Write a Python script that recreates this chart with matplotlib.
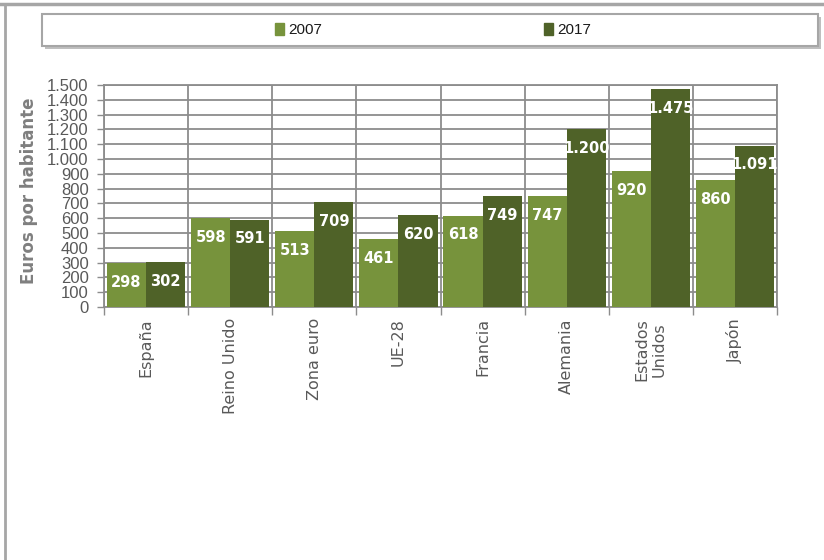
import matplotlib.pyplot as plt
from matplotlib.patches import Rectangle, Patch
from matplotlib.lines import Line2D
import numpy as np

paises = ["España", "Reino Unido", "Zona euro", "UE-28", "Francia",
          "Alemania", "Estados\nUnidos", "Japón"]
valores_2007 = [298, 598, 513, 461, 618, 747, 920, 860]
valores_2017 = [302, 591, 709, 620, 749, 1200, 1475, 1091]

color_2007 = "#77933C"
color_2017 = "#4F6228"
gris_rejilla = "#8c8c8c"
gris_texto = "#595959"


def fmt_miles(v):
    return f"{v:,}".replace(",", ".")


fig = plt.figure(figsize=(8.24, 5.6), dpi=100)
ax = fig.add_axes([104 / 824, 1 - 307 / 560, 673 / 824, 222 / 560])

x = np.arange(len(paises))
ancho = 0.465
b1 = ax.bar(x - ancho / 2, valores_2007, ancho, color=color_2007, zorder=3)
b2 = ax.bar(x + ancho / 2, valores_2017, ancho, color=color_2017, zorder=3)

# etiquetas de valor dentro de cada barra, cerca del extremo superior
for barras, vals in ((b1, valores_2007), (b2, valores_2017)):
    for rect, v in zip(barras, vals):
        ax.annotate(fmt_miles(v), (rect.get_x() + rect.get_width() / 2, v),
                    xytext=(0, -14), textcoords="offset points",
                    ha="center", va="center", color="white",
                    fontsize=10.5, fontweight="bold", family="DejaVu Sans",
                    zorder=4)

ax.set_xlim(-0.5, len(paises) - 0.5)
ax.set_ylim(0, 1500)

ax.set_yticks(np.arange(0, 1501, 100))
ax.set_yticklabels([fmt_miles(v) for v in range(0, 1501, 100)],
                   fontsize=12, color=gris_texto, family="Liberation Sans")
ax.tick_params(axis="y", length=5, width=1, color=gris_rejilla, pad=6)

ax.set_xticks(x)
ax.set_xticklabels(paises, rotation=90, fontsize=11.5, color=gris_texto,
                   family="DejaVu Sans", va="top", ha="center")
ax.set_xticks(np.arange(-0.5, len(paises)), minor=True)
ax.tick_params(axis="x", which="major", length=0, pad=8)
ax.tick_params(axis="x", which="minor", length=6, width=1, color=gris_rejilla)

ax.grid(axis="y", which="major", color=gris_rejilla, linewidth=1.3, zorder=0)
ax.grid(axis="x", which="minor", color=gris_rejilla, linewidth=1.3, zorder=0)
for s in ax.spines.values():
    s.set_color(gris_rejilla)
    s.set_linewidth(1.3)

ax.set_ylabel("Euros por habitante", fontsize=12, fontweight="bold",
              color="#7f7f7f", family="DejaVu Sans")
ax.yaxis.set_label_coords(-66 / 673, 0.525)

# marco exterior (borde superior e izquierdo)
fig.add_artist(Line2D([0, 1], [1 - 4 / 560] * 2, color="#a6a6a6", lw=2.5,
                      transform=fig.transFigure))
fig.add_artist(Line2D([5 / 824] * 2, [0, 1 - 4 / 560], color="#a6a6a6", lw=2,
                      transform=fig.transFigure))

# caja de la leyenda con sombra
fig.add_artist(Rectangle((45 / 824, 1 - 49 / 560), 776 / 824, 32 / 560,
                         transform=fig.transFigure, facecolor="#bfbfbf",
                         edgecolor="none", zorder=1))
fig.add_artist(Rectangle((42 / 824, 1 - 46 / 560), 776 / 824, 32 / 560,
                         transform=fig.transFigure, facecolor="white",
                         edgecolor="#a6a6a6", lw=1.5, zorder=2))

handles = [Patch(color=color_2007), Patch(color=color_2017)]
leg = fig.legend(handles, ["2007", "2017"], loc="center",
                 bbox_to_anchor=(433 / 824, 1 - 30 / 560), ncol=2,
                 frameon=False, handlelength=0.6, handleheight=0.9,
                 handletextpad=0.3, columnspacing=14.5,
                 prop={"family": "Liberation Sans", "size": 11})
for t in leg.get_texts():
    t.set_color("#1a1a1a")
leg.set_zorder(3)

fig.savefig("out.png", dpi=100, facecolor="white")
